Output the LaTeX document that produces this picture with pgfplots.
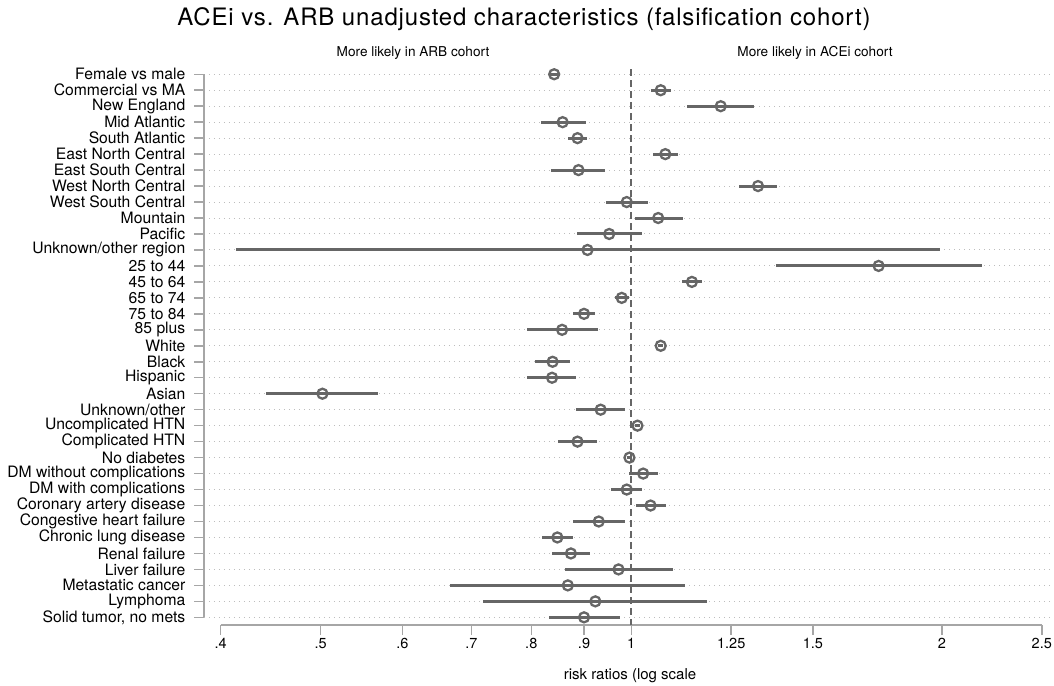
\documentclass[border=0pt]{standalone}
\usepackage{fontspec}
\setmainfont{TeX Gyre Heros}
\newfontfamily\titlefont[LetterSpace=3.5]{TeX Gyre Heros}
\usepackage{pgfplots}
\pgfplotsset{compat=1.18}
\usepackage{pgfplotstable}

\definecolor{mk}{HTML}{666666}
\definecolor{ax}{HTML}{A6A6A6}
\definecolor{gd}{HTML}{BDBDBD}

% row, risk ratio, lower and upper limit
\pgfplotstableread{
row rr    lo    hi
1  0.842 0.835 0.849
2  1.068 1.044 1.093
3  1.221 1.133 1.315
4  0.858 0.817 0.904
5  0.887 0.869 0.906
6  1.079 1.049 1.110
7  0.889 0.836 0.944
8  1.327 1.273 1.384
9  0.990 0.946 1.037
10 1.062 1.008 1.122
11 0.952 0.886 1.025
12 0.907 0.414 1.991
13 1.737 1.382 2.187
14 1.145 1.120 1.171
15 0.979 0.965 0.995
16 0.900 0.878 0.922
17 0.857 0.792 0.929
18 1.068 1.062 1.074
19 0.839 0.806 0.873
20 0.838 0.793 0.884
21 0.502 0.443 0.568
22 0.934 0.884 0.986
23 1.014 1.008 1.020
24 0.887 0.850 0.926
25 0.996 0.990 1.002
26 1.027 0.995 1.061
27 0.990 0.956 1.025
28 1.044 1.011 1.080
29 0.930 0.878 0.986
30 0.848 0.819 0.878
31 0.874 0.837 0.912
32 0.972 0.862 1.097
33 0.868 0.667 1.127
34 0.923 0.719 1.183
35 0.900 0.832 0.975
}\rrdata

\begin{document}
\begin{tikzpicture}
\begin{axis}[
    at={(204pt,60pt)}, anchor=south west,
    scale only axis,
    width=850pt, height=555.7pt,
    xmode=log,
    xmin=0.3854, xmax=2.569,
    ymin=0.69, ymax=35.48,
    y dir=reverse,
    axis lines*=left,
    axis line style={draw=none},
    xtick={0.4,0.5,0.6,0.7,0.8,0.9,1,1.25,1.5,2,2.5},
    xticklabels={.4,.5,.6,.7,.8,.9,1,1.25,1.5,2,2.5},
    minor xtick={},
    ytick={1,...,35},
    yticklabels={Female vs male,Commercial vs MA,New England,Mid Atlantic,
        South Atlantic,East North Central,East South Central,West North Central,
        West South Central,Mountain,Pacific,Unknown/other region,25 to 44,
        45 to 64,65 to 74,75 to 84,85 plus,White,Black,Hispanic,Asian,
        Unknown/other,Uncomplicated HTN,Complicated HTN,No diabetes,
        DM without complications,DM with complications,Coronary artery disease,
        Congestive heart failure,Chronic lung disease,Renal failure,Liver failure,
        Metastatic cancer,Lymphoma,{Solid tumor, no mets}},
    tick align=outside,
    major tick length=10pt,
    every tick/.style={ax, line width=1.5pt},
    ymajorgrids,
    major grid style={gd, dash pattern=on 1pt off 4pt, line width=1pt},
    yticklabel style={font=\fontsize{15.7}{16}\selectfont, inner xsep=3.5pt, xshift=-5pt},
    xticklabel style={font=\fontsize{14.5}{15}\selectfont},
    clip=false,
]
\draw[ax, line width=1.5pt] (axis cs:0.3854,1) -- (axis cs:0.3854,35);
\draw[ax, line width=1.5pt] (axis cs:0.4,35.48) -- (axis cs:2.5,35.48);
\draw[mk, line width=2pt, dash pattern=on 7pt off 4pt] (axis cs:1,0.69) -- (axis cs:1,35.48);

\addplot[draw=none, mark=none, forget plot,
    error bars/.cd, x dir=both, x explicit, error mark=none,
    error bar style={draw=mk, line width=3pt, solid}]
    table[x=rr, y=row,
          x error plus expr=\thisrow{hi}-\thisrow{rr},
          x error minus expr=\thisrow{rr}-\thisrow{lo}] {\rrdata};

\addplot[only marks, mark=o, mark size=5pt,
    mark options={draw=mk, line width=2.3pt, solid}]
    table[x=rr, y=row] {\rrdata};
\end{axis}

\node[anchor=base, font=\titlefont\fontsize{24}{24}\selectfont] at (524pt,659pt) {ACEi vs. ARB unadjusted characteristics (falsification cohort)};
\node[anchor=base, font=\fontsize{13.6}{14}\selectfont] at (413pt,628pt) {More likely in ARB cohort};
\node[anchor=base, font=\fontsize{13.6}{14}\selectfont] at (815pt,628pt) {More likely in ACEi cohort};
\node[anchor=base, font=\fontsize{15}{15}\selectfont] at (630pt,6pt) {risk ratios (log scale};

\pgfresetboundingbox
\path (0pt,0pt) rectangle (1054pt,685pt);
\end{tikzpicture}
\end{document}
